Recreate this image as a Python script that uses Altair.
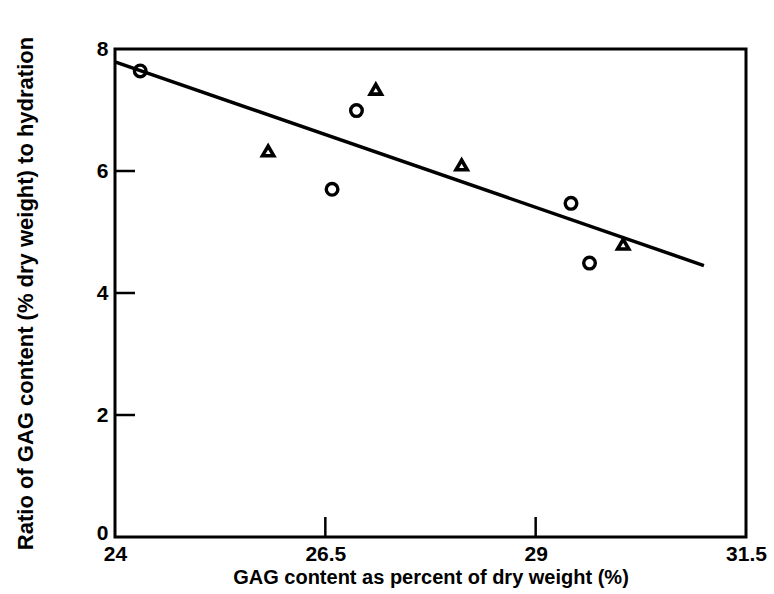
import altair as alt
import pandas as pd

# Data
circle_x = [24.30, 26.58, 26.87, 29.42, 29.64]
circle_y = [7.64, 5.70, 6.99, 5.47, 4.49]
tri_x = [25.82, 27.10, 28.12, 30.04]
tri_y = [6.33, 7.34, 6.10, 4.80]
line_x = [24.0, 31.0]
line_y = [7.79, 4.45]
x_tick_values = [24, 26.5, 29, 31.5]
y_tick_values = [0, 2, 4, 6, 8]
x_inner_ticks = [26.5, 29]
y_inner_ticks = [2, 4, 6]

FONT = "Liberation Sans"

circles = pd.DataFrame({"x": circle_x, "y": circle_y})
tris = pd.DataFrame({"x": tri_x, "y": tri_y})
line = pd.DataFrame({"x": line_x, "y": line_y})
xt = pd.DataFrame({"x": x_inner_ticks})
yt = pd.DataFrame({"y": y_inner_ticks})

xscale = alt.Scale(domain=[24, 31.5], nice=False, zero=False)
yscale = alt.Scale(domain=[0, 8], nice=False, zero=False)

xaxis = alt.Axis(
    values=x_tick_values, format="~g", ticks=False, tickSize=0, domain=False,
    grid=False, labelFlush=False, labelOverlap=False, labelPadding=6,
    labelFont=FONT, labelFontSize=21, labelFontWeight="bold", labelColor="black",
    title="GAG content as percent of dry weight (%)",
    titleFont=FONT, titleFontSize=20, titleFontWeight="bold", titleColor="black",
    titlePadding=3,
)
yaxis = alt.Axis(
    values=y_tick_values, format="~g", ticks=False, tickSize=0, domain=False,
    grid=False, labelFlush=False, labelOverlap=False, labelPadding=7,
    labelOffset={"condition": {"test": "datum.value == 0", "value": -4}, "value": 0},
    labelFont=FONT, labelFontSize=21, labelFontWeight="bold", labelColor="black",
    title="Ratio of GAG content (% dry weight) to hydration",
    titleFont=FONT, titleFontSize=22, titleFontWeight="bold", titleColor="black",
    titlePadding=59,
)

base_x = alt.X("x:Q", scale=xscale, axis=xaxis)
base_y = alt.Y("y:Q", scale=yscale, axis=yaxis)

fit = alt.Chart(line).mark_line(color="black", strokeWidth=3.5).encode(x=base_x, y=base_y)

circ = alt.Chart(circles).mark_point(
    shape="circle", filled=False, color="black", strokeWidth=3.4, size=135, opacity=1
).encode(x=alt.X("x:Q", scale=xscale), y=alt.Y("y:Q", scale=yscale))

tri = alt.Chart(tris).mark_point(
    shape="triangle-up", filled=False, color="black", strokeWidth=3.6, size=125, opacity=1
).encode(x=alt.X("x:Q", scale=xscale), y=alt.Y("y:Q", scale=yscale))

xticks = alt.Chart(xt).mark_rule(color="black", strokeWidth=2.5).encode(
    x=alt.X("x:Q", scale=xscale), y=alt.value(488), y2=alt.value(468)
)
yticks = alt.Chart(yt).mark_rule(color="black", strokeWidth=2.5).encode(
    y=alt.Y("y:Q", scale=yscale), x=alt.value(0), x2=alt.value(20)
)

chart = (
    alt.layer(fit, xticks, yticks, circ, tri)
    .properties(
        width=631, height=488,
        autosize=alt.AutoSizeParams(type="none"),
        padding={"left": 115, "top": 49, "right": 28, "bottom": 57},
        background="white",
    )
    .configure_view(stroke="black", strokeWidth=3)
)

chart.save("out.html", embed_options={"renderer": "svg", "actions": False})
